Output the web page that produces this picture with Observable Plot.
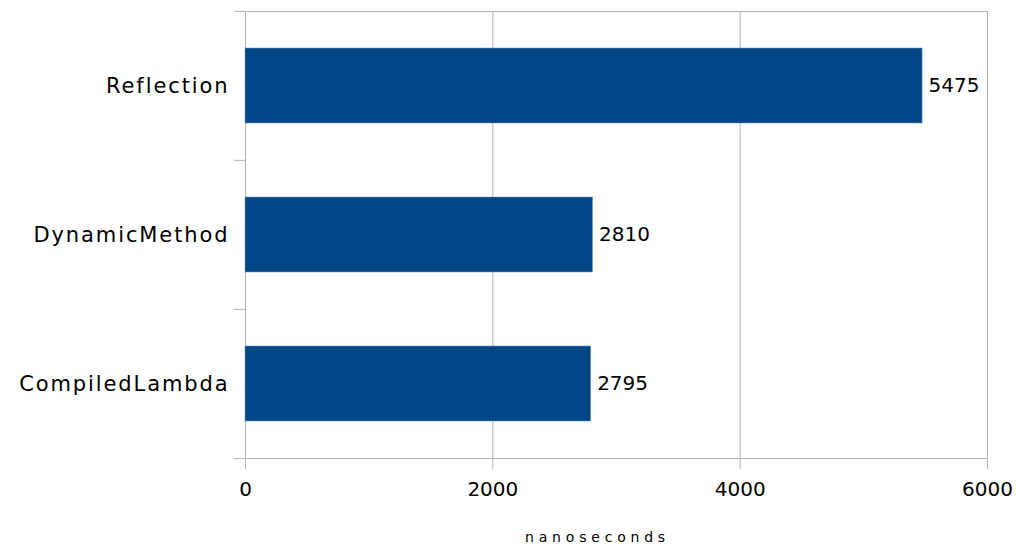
<!DOCTYPE html>
<html>
<head>
<meta charset="utf-8">
<script src="https://cdn.jsdelivr.net/npm/d3@7"></script>
<script src="https://cdn.jsdelivr.net/npm/@observablehq/plot@0.6"></script>
<style>
  html, body { margin: 0; padding: 0; background: #fff; }
  #chart svg { font-family: "DejaVu Sans", sans-serif; }
  .catlab text { letter-spacing: 1.9px; }
  .xlab text { letter-spacing: 4.8px; }
</style>
</head>
<body>
<div id="chart"></div>
<script>
const categories = ["Reflection", "DynamicMethod", "CompiledLambda"];
const values = [5475, 2810, 2795];
const xTicks = [0, 2000, 4000, 6000];
const xLabel = "nanoseconds";

const data = categories.map((name, i) => ({name, value: values[i]}));
const grid = "#b3b3b3";
const half = 448 / 3 / 2;

const chart = Plot.plot({
  width: 1016,
  height: 548,
  marginLeft: 245,
  marginRight: 29,
  marginTop: 11,
  marginBottom: 90,
  style: {background: "#fff", color: "#000", fontFamily: "DejaVu Sans, sans-serif"},
  x: {domain: [0, 6000], ticks: xTicks},
  y: {domain: categories, paddingInner: 0.5, paddingOuter: 0.25},
  marks: [
    Plot.gridX([2000, 4000], {stroke: grid, strokeOpacity: 1}),
    Plot.frame({stroke: grid}),
    Plot.barX(data, {x: "value", y: "name", fill: "#004586", stroke: "#6f98c4", strokeWidth: 0.6}),
    Plot.text(data, {x: "value", y: "name", text: d => String(d.value), textAnchor: "start", dx: 6, fontSize: 20, fill: "#000"}),
    Plot.axisX({ticks: xTicks, tickSize: 11, tickPadding: 12, stroke: grid, strokeOpacity: 1, fill: "#000", fontSize: 20, label: null, tickFormat: d => String(d)}),
    Plot.axisY({tickSize: 0, tickPadding: 16, fontSize: 21, fill: "#000", label: null, className: "catlab"}),
    Plot.axisY({ticks: categories, tickSize: 11, dy: -half, stroke: grid, strokeOpacity: 1, tickFormat: () => "", label: null}),
    Plot.axisY({ticks: [categories[categories.length - 1]], tickSize: 11, dy: half, stroke: grid, strokeOpacity: 1, tickFormat: () => "", label: null}),
    Plot.text([xLabel], {frameAnchor: "bottom", text: d => d, dx: -19, dy: 83, fontSize: 14, fill: "#000", lineAnchor: "bottom", className: "xlab"})
  ]
});
document.getElementById("chart").appendChild(chart);
</script>
</body>
</html>
